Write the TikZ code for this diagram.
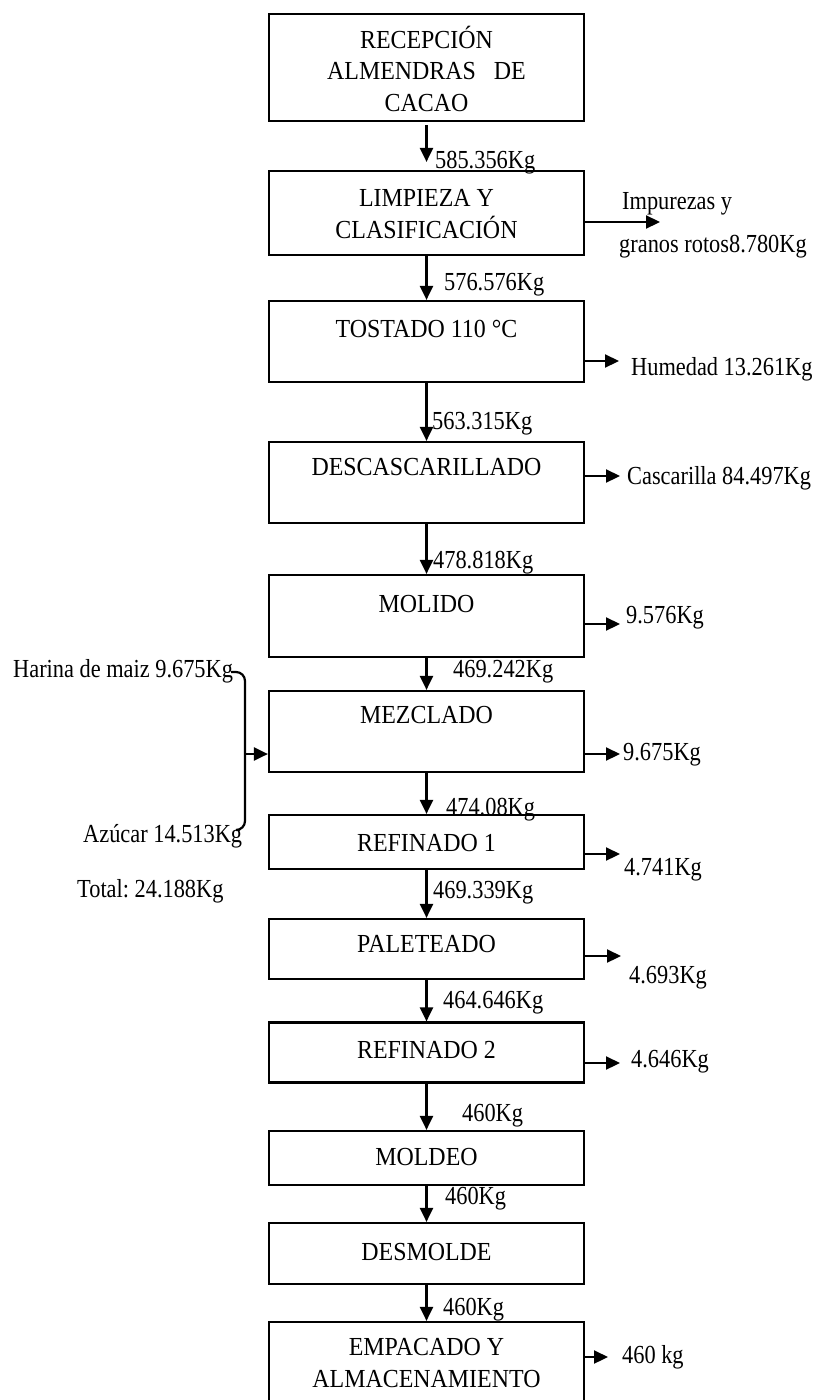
\documentclass[tikz,border=0pt]{standalone}
\usepackage{fontspec}
\setmainfont{Liberation Serif}
\newfontfamily\stepfont{Liberation Serif}[FakeStretch=0.92]
\newfontfamily\flowfont{Liberation Serif}[FakeStretch=0.86]
\usetikzlibrary{arrows.meta}
\frenchspacing

\tikzset{
  stage/.style={draw, line width=2.2pt, minimum width=315pt, inner sep=0pt},
  stagetext/.style={anchor=base, align=center, inner sep=0pt,
    font=\stepfont\fontsize{26}{31.5}\selectfont},
  qty/.style={anchor=base west, inner sep=0pt,
    font=\flowfont\fontsize{26}{31.5}\selectfont},
  flow/.style={line width=2.2pt, -{Triangle[length=14pt,width=13pt]}},
  bracket/.style={line width=2.2pt, rounded corners=9pt},
}

\begin{document}
\begin{tikzpicture}[x=1pt, y=-1pt]
\useasboundingbox (0,0) rectangle (816,1400);
\clip (0,0) rectangle (816,1400);

% process stages
\node[stage, minimum height=107pt] (b1)  at (426.5,  67.5) {};
\node[stage, minimum height=84pt]  (b2)  at (426.5, 213)   {};
\node[stage, minimum height=81pt]  (b3)  at (426.5, 341.5) {};
\node[stage, minimum height=81pt]  (b4)  at (426.5, 482.5) {};
\node[stage, minimum height=82pt]  (b5)  at (426.5, 616)   {};
\node[stage, minimum height=81pt]  (b6)  at (426.5, 731.5) {};
\node[stage, minimum height=54pt]  (b7)  at (426.5, 842)   {};
\node[stage, minimum height=60pt]  (b8)  at (426.5, 949)   {};
\node[stage, minimum height=60pt]  (b9)  at (426.5, 1052.5){};
\node[stage, minimum height=54pt]  (b10) at (426.5, 1158)  {};
\node[stage, minimum height=61pt]  (b11) at (426.5, 1253.5){};
\node[stage, minimum height=118pt] (b12) at (426.5, 1381)  {};

% stage names (multi-line names sit on the baseline of their last line)
\node[stagetext] (t1)  at (426.5, 111)  {RECEPCIÓN\\ALMENDRAS\ \ \ DE\\CACAO};
\node[stagetext] (t2)  at (426.5, 238)  {LIMPIEZA Y\\CLASIFICACIÓN};
\node[stagetext] (t3)  at (426.5, 337)  {TOSTADO 110 °C};
\node[stagetext] (t4)  at (426.5, 475)  {DESCASCARILLADO};
\node[stagetext] (t5)  at (426.5, 612)  {MOLIDO};
\node[stagetext] (t6)  at (426.5, 723)  {MEZCLADO};
\node[stagetext] (t7)  at (426.5, 851)  {REFINADO 1};
\node[stagetext] (t8)  at (426.5, 952)  {PALETEADO};
\node[stagetext] (t9)  at (426.5, 1058) {REFINADO 2};
\node[stagetext] (t10) at (426.5, 1165) {MOLDEO};
\node[stagetext] (t11) at (426.5, 1260) {DESMOLDE};
\node[stagetext] (t12) at (426.5, 1387) {EMPACADO Y\\ALMACENAMIENTO};

% main flow
\draw[flow, shorten <=3pt, shorten >=8pt] (b1.south) -- (b2.north);
\draw[flow] (b2.south)  -- (b3.north);
\draw[flow] (b3.south)  -- (b4.north);
\draw[flow] (b4.south)  -- (b5.north);
\draw[flow] (b5.south)  -- (b6.north);
\draw[flow] (b6.south)  -- (b7.north);
\draw[flow] (b7.south)  -- (b8.north);
\draw[flow] (b8.south)  -- (b9.north);
\draw[flow] (b9.south)  -- (b10.north);
\draw[flow] (b10.south) -- (b11.north);
\draw[flow] (b11.south) -- (b12.north);

% mass between stages
\node[qty] (m1)  at (435, 168)  {585.356Kg};
\node[qty] (m2)  at (444, 290)  {576.576Kg};
\node[qty] (m3)  at (432, 429)  {563.315Kg};
\node[qty] (m4)  at (433, 568)  {478.818Kg};
\node[qty] (m5)  at (453, 677)  {469.242Kg};
\node[qty] (m6)  at (446, 815)  {474.08Kg};
\node[qty] (m7)  at (433, 898)  {469.339Kg};
\node[qty] (m8)  at (443, 1008) {464.646Kg};
\node[qty] (m9)  at (462, 1121) {460Kg};
\node[qty] (m10) at (445, 1204) {460Kg};
\node[qty] (m11) at (443, 1315) {460Kg};

% outputs on the right
\coordinate (o2)  at (660, 222);
\coordinate (o3)  at (619, 361);
\coordinate (o4)  at (620, 476);
\coordinate (o5)  at (620, 624);
\coordinate (o6)  at (620, 754);
\coordinate (o7)  at (620, 854);
\coordinate (o8)  at (621, 956);
\coordinate (o9)  at (620, 1063);
\coordinate (o12) at (608, 1357);
\draw[flow] (b2.east |- o2)   -- (o2);
\draw[flow] (b3.east |- o3)   -- (o3);
\draw[flow] (b4.east |- o4)   -- (o4);
\draw[flow] (b5.east |- o5)   -- (o5);
\draw[flow] (b6.east |- o6)   -- (o6);
\draw[flow] (b7.east |- o7)   -- (o7);
\draw[flow] (b8.east |- o8)   -- (o8);
\draw[flow] (b9.east |- o9)   -- (o9);
\draw[flow] (b12.east |- o12) -- (o12);

\node[qty] (r2a) at (622, 209)  {Impurezas y};
\node[qty] (r2b) at (619, 252)  {granos rotos8.780Kg};
\node[qty] (r3)  at (631, 375)  {Humedad 13.261Kg};
\node[qty] (r4)  at (627, 484)  {Cascarilla 84.497Kg};
\node[qty] (r5)  at (626, 623)  {9.576Kg};
\node[qty] (r6)  at (623, 760)  {9.675Kg};
\node[qty] (r7)  at (624, 875)  {4.741Kg};
\node[qty] (r8)  at (629, 983)  {4.693Kg};
\node[qty] (r9)  at (631, 1067) {4.646Kg};
\node[qty] (r12) at (622, 1363) {460 kg};

% ingredients added in mixing
\node[qty] (harina) at (13, 677) {Harina de maiz 9.675Kg};
\node[qty] (azucar) at (83, 842) {Azúcar 14.513Kg};
\node[qty] (total)  at (77, 897) {Total: 24.188Kg};

\coordinate (hb)  at (231, 672);
\coordinate (ab)  at (236, 830);
\coordinate (brk) at (245, 754);
\draw[bracket] (hb) -- (245, 672) -- (245, 830) -- (ab);
\draw[flow] (brk) -- (b6.west |- brk);
\end{tikzpicture}
\end{document}
